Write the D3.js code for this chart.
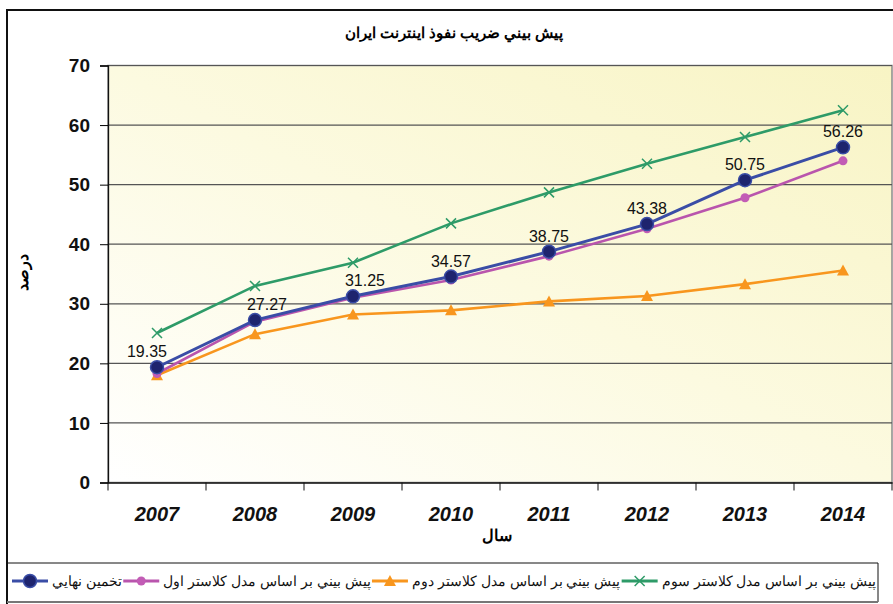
<!DOCTYPE html>
<html>
<head>
<meta charset="utf-8">
<script src="https://cdn.jsdelivr.net/npm/d3@7"></script>
<style>
  body { margin: 0; background: #fff; }
  svg { display: block; font-family: "Liberation Sans", Arial, sans-serif; }
</style>
</head>
<body>
<svg id="chart" width="893" height="604"></svg>
<script>
// chart data
var years = ["2007", "2008", "2009", "2010", "2011", "2012", "2013", "2014"];
var finalEst = [19.35, 27.27, 31.25, 34.57, 38.75, 43.38, 50.75, 56.26];
var cluster1 = [18.3, 27.0, 31.0, 34.0, 38.0, 42.6, 47.8, 54.0];
var cluster2 = [18.0, 24.9, 28.2, 28.9, 30.4, 31.3, 33.3, 35.6];
var cluster3 = [25.1, 33.0, 36.9, 43.5, 48.7, 53.5, 58.0, 62.5];
var yTicks = [0, 10, 20, 30, 40, 50, 60, 70];

var titleText = "پيش بيني ضريب نفوذ اينترنت ايران";
var xTitle = "سال", yTitle = "درصد";

var series = [
    { name: "تخمين نهايي", values: finalEst, color: "#3a4da6", mark: "bigdot" },
    { name: "پيش بيني بر اساس مدل كلاستر اول", values: cluster1, color: "#b955ad", mark: "dot" },
    { name: "پيش بيني بر اساس مدل كلاستر دوم", values: cluster2, color: "#f8961e", mark: "tri" },
    { name: "پيش بيني بر اساس مدل كلاستر سوم", values: cluster3, color: "#2e9b68", mark: "x" }
];

var svg = d3.select("#chart");

var scX = d3.scaleBand().domain(years).range([108, 892]),
    scY = d3.scaleLinear().domain([0, 70]).range([482.5, 65.5]);
var cx = d => scX(d) + scX.bandwidth() / 2;

// background gradient
var defs = svg.append("defs");
var grad = defs.append("linearGradient").attr("id", "bg")
    .attr("x1", "0").attr("y1", "1").attr("x2", "1").attr("y2", "0");
grad.append("stop").attr("offset", "0").attr("stop-color", "#ffffff");
grad.append("stop").attr("offset", "0.5").attr("stop-color", "#fcfae0");
grad.append("stop").attr("offset", "1").attr("stop-color", "#f8f4c4");

svg.append("rect").attr("x", 108).attr("y", 65.5)
    .attr("width", 784).attr("height", 417)
    .attr("fill", "url(#bg)").attr("stroke", "#8a8a8a").attr("stroke-width", 1.5);

// gridlines
svg.append("g").selectAll("line").data(yTicks.filter(d => d > 0)).enter().append("line")
    .attr("x1", 108).attr("x2", 892)
    .attr("y1", d => scY(d)).attr("y2", d => scY(d))
    .attr("stroke", "#555").attr("stroke-width", 1.2);

// axes
var yAxis = svg.append("g").attr("transform", "translate(108,0)")
    .call(d3.axisLeft(scY).tickValues(yTicks).tickSize(8).tickPadding(10));
yAxis.selectAll("text").attr("font-size", 19).attr("font-weight", "bold")
    .attr("fill", "#111").attr("font-family", "Liberation Sans, Arial");
yAxis.select(".domain").attr("stroke", "#111").attr("stroke-width", 1.3);

var xAxis = svg.append("g").attr("transform", "translate(0,482.5)")
    .call(d3.axisBottom(scX).tickSize(0).tickPadding(24));
xAxis.selectAll("text").attr("font-size", 20).attr("font-weight", "bold")
    .attr("font-style", "italic").attr("fill", "#111").attr("font-family", "Liberation Sans, Arial");
xAxis.select(".domain").attr("stroke", "#111").attr("stroke-width", 1.3);
xAxis.append("g").selectAll("line").data(years.concat(["end"])).enter().append("line")
    .attr("x1", (d, i) => 108 + i * scX.bandwidth()).attr("x2", (d, i) => 108 + i * scX.bandwidth())
    .attr("y1", 0).attr("y2", 8).attr("stroke", "#111");

// series
var line = d3.line().x((d, i) => cx(years[i])).y(d => scY(d));
var drawOrder = [3, 2, 1, 0];
drawOrder.forEach(function (k) {
    var s = series[k];
    var g = svg.append("g");
    g.append("path").attr("d", line(s.values)).attr("fill", "none")
        .attr("stroke", s.color).attr("stroke-width", k == 0 ? 3 : 2.6);
    drawMarks(g, s, s.values.map((v, i) => [cx(years[i]), scY(v)]));
});

function drawMarks(g, s, pts) {
    var m = g.selectAll(".m").data(pts).enter();
    if (s.mark == "bigdot") {
        m.append("circle").attr("cx", d => d[0]).attr("cy", d => d[1]).attr("r", 6.5)
            .attr("fill", "#1e246e").attr("stroke", "#3a4da6").attr("stroke-width", 1.5);
    } else if (s.mark == "dot") {
        m.append("circle").attr("cx", d => d[0]).attr("cy", d => d[1]).attr("r", 4.5)
            .attr("fill", "#c25cb5");
    } else if (s.mark == "tri") {
        m.append("path").attr("d", d => `M${d[0]},${d[1] - 6}L${d[0] + 6},${d[1] + 5}L${d[0] - 6},${d[1] + 5}Z`)
            .attr("fill", "#f8961e");
    } else {
        m.append("path").attr("d", d => `M${d[0] - 5},${d[1] - 5}L${d[0] + 5},${d[1] + 5}M${d[0] + 5},${d[1] - 5}L${d[0] - 5},${d[1] + 5}`)
            .attr("stroke", s.color).attr("stroke-width", 1.5);
    }
}

// data labels on final estimate
svg.append("g").selectAll("text").data(finalEst).enter().append("text")
    .attr("x", (d, i) => cx(years[i]) + (i == 0 ? -10 : i < 3 ? 12 : 0))
    .attr("y", d => scY(d) - 10)
    .attr("text-anchor", "middle").attr("font-size", 16).attr("fill", "#111")
    .text(d => d.toFixed(2));

// titles
svg.append("text").attr("x", 454).attr("y", 38).attr("text-anchor", "middle")
    .attr("font-size", 14.5).attr("font-weight", "bold").attr("direction", "rtl")
    .attr("unicode-bidi", "embed").text(titleText);
svg.append("text").attr("x", 497).attr("y", 541).attr("text-anchor", "middle")
    .attr("font-size", 16).attr("font-weight", "bold").text(xTitle);
svg.append("text").attr("transform", "translate(28,272) rotate(-90)").attr("text-anchor", "middle")
    .attr("font-size", 16).attr("font-weight", "bold").text(yTitle);

// outer frame
svg.append("path").attr("d", "M7,604V10H893").attr("fill", "none")
    .attr("stroke", "#111").attr("stroke-width", 2);

// legend: keys spread across the box
svg.append("path").attr("d", "M7,563H878V602").attr("fill", "none").attr("stroke", "#111").attr("stroke-width", 1);
svg.append("line").attr("x1", 7).attr("x2", 878).attr("y1", 602).attr("y2", 602)
    .attr("stroke", "#777").attr("stroke-width", 2);
var lg = svg.append("g");
var ly = 581, keyW = 36, keyGap = 4;
var labels = series.map(s => lg.append("text").attr("y", ly + 5).attr("font-size", 14)
    .attr("fill", "#111").text(s.name));
var widths = labels.map(t => t.node().getComputedTextLength());
var used = d3.sum(widths) + series.length * (keyW + keyGap);
var gap = (876 - 12 - used) / (series.length - 1);
var lx = 12;
series.forEach(function (s, i) {
    lg.append("line").attr("x1", lx).attr("x2", lx + keyW).attr("y1", ly).attr("y2", ly)
        .attr("stroke", s.color).attr("stroke-width", 3);
    drawMarks(lg.append("g"), s, [[lx + keyW / 2, ly]]);
    labels[i].attr("x", lx + keyW + keyGap);
    lx += keyW + keyGap + widths[i] + gap;
});
</script>
</body>
</html>
